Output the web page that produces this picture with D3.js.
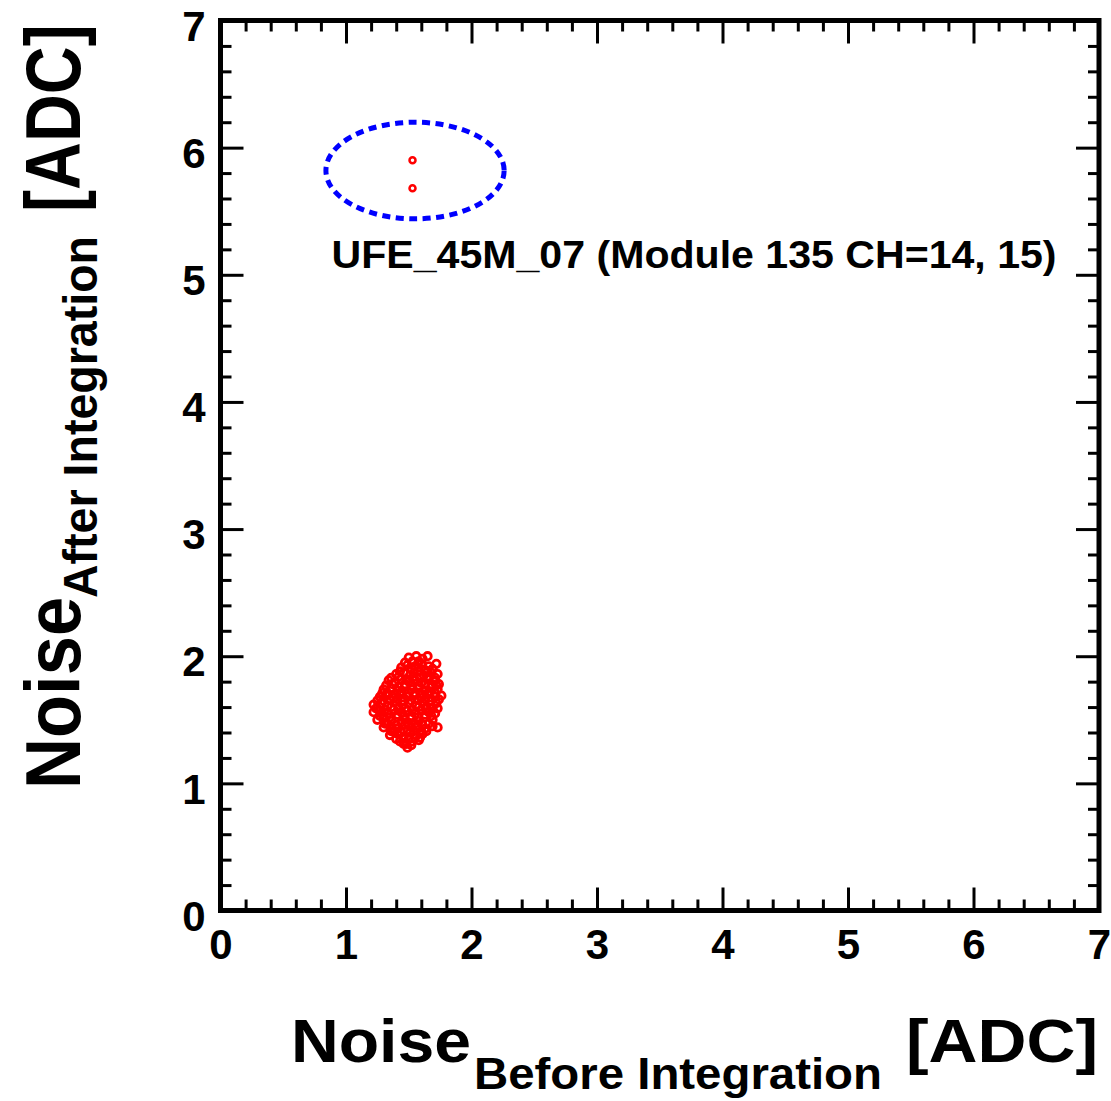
<!DOCTYPE html>
<meta charset="utf-8">
<script src="https://d3js.org/d3.v7.min.js"></script>
<style>
  body { margin: 0; background: #fff; }
  text { font-family: "Liberation Sans", Arial, sans-serif; font-weight: bold; }
</style>
<div id="my_dataviz"></div>
<script>
    // noise before / after integration, one point per channel
    var clusterX = [
      1.50,1.56,1.61,1.65,1.53,
      1.44,1.49,1.55,1.60,1.66,1.72,1.63,
      1.40,1.46,1.51,1.57,1.62,1.68,1.73,
      1.34,1.39,1.44,1.50,1.55,1.60,1.65,1.70,1.74,
      1.30,1.36,1.41,1.47,1.52,1.58,1.63,1.68,1.73,
      1.27,1.32,1.38,1.43,1.49,1.54,1.60,1.65,1.71,1.76,
      1.22,1.28,1.33,1.39,1.45,1.50,1.56,1.61,1.67,1.72,
      1.22,1.27,1.33,1.38,1.44,1.49,1.55,1.60,1.66,1.71,
      1.25,1.30,1.36,1.41,1.47,1.52,1.58,1.63,1.69,
      1.30,1.36,1.41,1.47,1.52,1.57,1.63,1.73,
      1.35,1.41,1.46,1.51,1.56,1.61,
      1.43,1.48,1.53,1.58,
      1.49,
      1.42,1.54,1.65,
      1.37,1.47,1.58,1.68,
      1.33,1.44,1.55,1.66,
      1.30,1.41,1.52,1.63,1.74,
      1.25,1.36,1.47,1.58,1.69,
      1.30,1.41,1.52,1.63,
      1.33,1.44,1.55,1.66,
      1.38,1.49,1.60,
      1.46,1.55,
      1.52,1.58,
      1.47,1.58,1.69,
      1.43,1.54,1.65,1.71,
      1.36,1.48,1.59,
      1.32,1.42,1.53,1.63,1.72,
      1.29,1.39,1.50,1.61,1.71,
      1.25,1.35,1.46,1.57,1.68,
      1.24,1.31,1.42,1.53,1.64,1.73,
      1.27,1.35,1.46,1.57,1.68,
      1.31,1.40,1.50,1.61,1.69,
      1.36,1.44,1.54,1.64,
      1.40,1.50,1.59,
      1.46,1.52
    ];
    var clusterY = [
      1.99,2.00,1.98,2.00,1.96,
      1.91,1.93,1.92,1.94,1.92,1.94,1.89,
      1.86,1.87,1.85,1.88,1.85,1.87,1.86,
      1.81,1.79,1.82,1.80,1.81,1.79,1.82,1.80,1.78,
      1.74,1.75,1.73,1.76,1.74,1.75,1.73,1.76,1.74,
      1.68,1.69,1.67,1.70,1.68,1.69,1.67,1.70,1.68,1.69,
      1.62,1.63,1.61,1.64,1.62,1.63,1.61,1.64,1.62,1.63,
      1.56,1.57,1.55,1.58,1.56,1.57,1.55,1.58,1.56,1.55,
      1.50,1.51,1.49,1.52,1.50,1.51,1.49,1.52,1.50,
      1.44,1.45,1.43,1.46,1.44,1.45,1.43,1.44,
      1.38,1.39,1.37,1.40,1.38,1.39,
      1.33,1.31,1.33,1.34,
      1.28,
      1.84,1.84,1.84,
      1.78,1.78,1.77,1.78,
      1.71,1.72,1.71,1.72,
      1.65,1.66,1.65,1.66,1.66,
      1.59,1.60,1.59,1.60,1.59,
      1.53,1.54,1.53,1.54,
      1.47,1.48,1.47,1.47,
      1.41,1.42,1.41,
      1.35,1.36,
      1.90,1.96,
      1.95,1.91,1.90,
      1.88,1.87,1.88,1.83,
      1.83,1.82,1.83,
      1.77,1.76,1.77,1.78,1.77,
      1.71,1.70,1.71,1.70,1.71,
      1.65,1.66,1.65,1.66,1.65,
      1.59,1.58,1.59,1.58,1.59,1.59,
      1.53,1.52,1.53,1.52,1.53,
      1.47,1.46,1.47,1.46,1.45,
      1.41,1.40,1.41,1.41,
      1.35,1.35,1.36,
      1.31,1.30
    ];
    // the two noisy channels of UFE_45M_07
    var outlierX = [1.53, 1.53];
    var outlierY = [5.90, 5.68];

    // dashed ellipse round the outliers (data units)
    var ringCenter = [1.55, 5.82];
    var ringRadius = [0.71, 0.38];
    var noteText = "UFE_45M_07 (Module 135 CH=14, 15)";
    var notePos = [0.885, 5.05];

    var majorTicks = [0, 1, 2, 3, 4, 5, 6, 7];

    var W = 1111, H = 1101;
    var svg = d3.select("#my_dataviz")
      .append("svg")
        .attr("width", W)
        .attr("height", H);

    var x = d3.scaleLinear().domain([0, 7]).range([220.5, 1099]);
    var y = d3.scaleLinear().domain([0, 7]).range([910.5, 20.5]);

    var minorTicks = d3.range(0, 7.001, 0.2).filter(function(v){
      return Math.abs(v - Math.round(v)) > 1e-6 })

    function styleAxis(g, fontSize) {
      g.select(".domain").remove()
      g.selectAll(".tick line").attr("stroke", "#000").attr("stroke-width", 3)
      g.selectAll("text").attr("fill", "#000").style("font-size", fontSize + "px")
    }

    // bottom axis, major ticks + labels
    var gx = svg.append("g")
      .attr("transform", "translate(0," + y(0) + ")")
      .call(d3.axisBottom(x).tickValues(majorTicks).tickSize(-23).tickPadding(19).tickFormat(d3.format("d")))
    styleAxis(gx, 42)
    svg.append("g")
      .attr("transform", "translate(0," + y(0) + ")")
      .call(d3.axisBottom(x).tickValues(minorTicks).tickSize(-11).tickFormat(""))
      .call(styleAxis, 42)

    // top axis (ticks only)
    svg.append("g")
      .attr("transform", "translate(0," + y(7) + ")")
      .call(d3.axisTop(x).tickValues(majorTicks).tickSize(-23).tickFormat(""))
      .call(styleAxis, 42)
    svg.append("g")
      .attr("transform", "translate(0," + y(7) + ")")
      .call(d3.axisTop(x).tickValues(minorTicks).tickSize(-11).tickFormat(""))
      .call(styleAxis, 42)

    // left axis
    var gy = svg.append("g")
      .attr("transform", "translate(" + x(0) + ",0)")
      .call(d3.axisLeft(y).tickValues(majorTicks).tickSize(-23).tickPadding(15).tickFormat(d3.format("d")))
    styleAxis(gy, 42)
    gy.selectAll("text").attr("dy", "0.47em")
    svg.append("g")
      .attr("transform", "translate(" + x(0) + ",0)")
      .call(d3.axisLeft(y).tickValues(minorTicks).tickSize(-11).tickFormat(""))
      .call(styleAxis, 42)

    // right axis (ticks only)
    svg.append("g")
      .attr("transform", "translate(" + x(7) + ",0)")
      .call(d3.axisRight(y).tickValues(majorTicks).tickSize(-23).tickFormat(""))
      .call(styleAxis, 42)
    svg.append("g")
      .attr("transform", "translate(" + x(7) + ",0)")
      .call(d3.axisRight(y).tickValues(minorTicks).tickSize(-11).tickFormat(""))
      .call(styleAxis, 42)

    // frame
    svg.append("rect")
      .attr("x", x(0)).attr("y", y(7))
      .attr("width", x(7) - x(0)).attr("height", y(0) - y(7))
      .attr("fill", "none")
      .attr("stroke", "#000")
      .attr("stroke-width", 5)

    // points
    svg.append("g")
      .selectAll("circle")
      .data(d3.range(clusterX.length))
      .enter()
      .append("circle")
        .attr("cx", function(i){ return x(clusterX[i]) })
        .attr("cy", function(i){ return y(clusterY[i]) })
        .attr("r", 3.7)
        .attr("fill", "none")
        .attr("stroke", "#ff0000")
        .attr("stroke-width", 2.8)

    svg.append("g")
      .selectAll("circle")
      .data(d3.range(outlierX.length))
      .enter()
      .append("circle")
        .attr("cx", function(i){ return x(outlierX[i]) })
        .attr("cy", function(i){ return y(outlierY[i]) })
        .attr("r", 3)
        .attr("fill", "none")
        .attr("stroke", "#ff0000")
        .attr("stroke-width", 2.5)

    // dashed ellipse
    svg.append("ellipse")
      .attr("cx", x(ringCenter[0]))
      .attr("cy", y(ringCenter[1]))
      .attr("rx", x(ringCenter[0] + ringRadius[0]) - x(ringCenter[0]))
      .attr("ry", y(ringCenter[1]) - y(ringCenter[1] + ringRadius[1]))
      .attr("fill", "none")
      .attr("stroke", "#0000ff")
      .attr("stroke-width", 5)
      .attr("stroke-dasharray", "8,5.5")

    svg.append("text")
      .attr("x", x(notePos[0]))
      .attr("y", y(notePos[1]))
      .attr("textLength", 725)
      .attr("lengthAdjust", "spacingAndGlyphs")
      .style("font-size", "39px")
      .text(noteText)

    // x title
    svg.append("text").attr("x", 291).attr("y", 1062)
      .attr("textLength", 180).attr("lengthAdjust", "spacingAndGlyphs")
      .style("font-size", "61px").text("Noise")
    svg.append("text").attr("x", 474).attr("y", 1089)
      .attr("textLength", 408).attr("lengthAdjust", "spacingAndGlyphs")
      .style("font-size", "44px").text("Before Integration")
    svg.append("text").attr("x", 906).attr("y", 1062)
      .attr("textLength", 192).attr("lengthAdjust", "spacingAndGlyphs")
      .style("font-size", "61px").text("[ADC]")

    // y title (rotated, squeezed along its length)
    svg.append("text").attr("transform", "translate(80,789) rotate(-90) scale(0.905,1)")
      .style("font-size", "78px").text("Noise")
    svg.append("text").attr("transform", "translate(97,598) rotate(-90) scale(0.95,1)")
      .style("font-size", "49px").text("After Integration")
    svg.append("text").attr("transform", "translate(80,212) rotate(-90) scale(0.85,1)")
      .style("font-size", "78px").text("[ADC]")
</script>
